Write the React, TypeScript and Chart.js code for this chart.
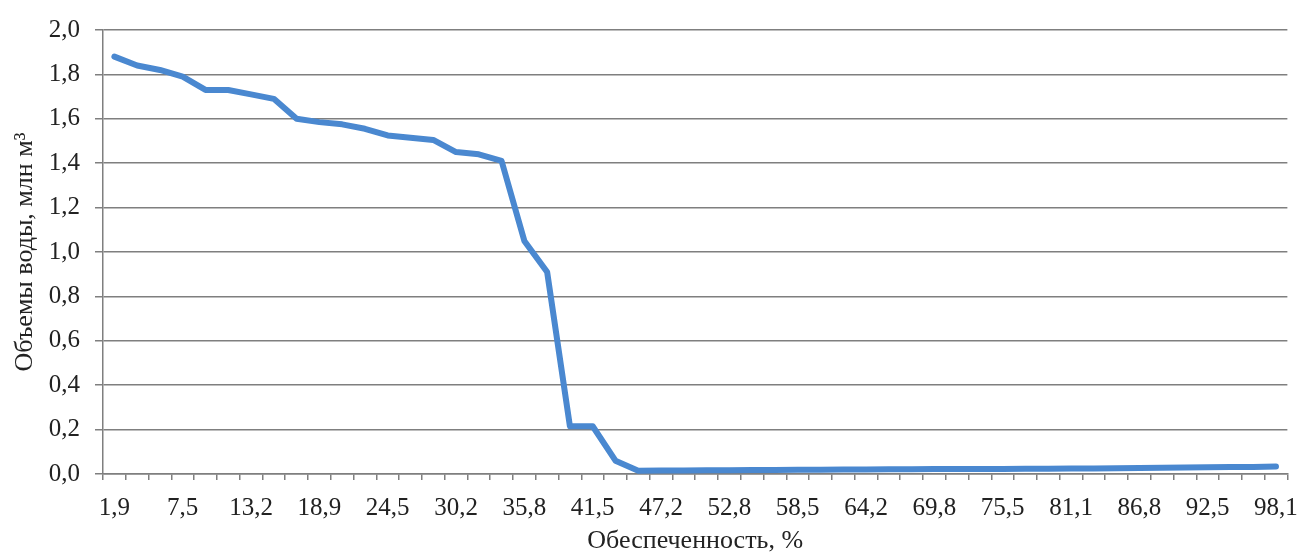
import React, { useEffect, useRef } from "react";
import { Chart, registerables } from "chart.js";

Chart.register(...registerables);

const xLabels: string[] = [
  "1,9", "3,8", "5,7", "7,5", "9,4", "11,3", "13,2", "15,1", "17,0", "18,9",
  "20,8", "22,6", "24,5", "26,4", "28,3", "30,2", "32,1", "34,0", "35,8", "37,7",
  "39,6", "41,5", "43,4", "45,3", "47,2", "49,1", "50,9", "52,8", "54,7", "56,6",
  "58,5", "60,4", "62,3", "64,2", "66,0", "67,9", "69,8", "71,7", "73,6", "75,5",
  "77,4", "79,2", "81,1", "83,0", "84,9", "86,8", "88,7", "90,6", "92,5", "94,3",
  "96,2", "98,1",
];

const volumes: number[] = [
  1.88, 1.84, 1.82, 1.79, 1.73, 1.73, 1.71, 1.69, 1.60, 1.585,
  1.575, 1.555, 1.525, 1.515, 1.505, 1.45, 1.44, 1.41, 1.05, 0.91,
  0.215, 0.215, 0.06, 0.015, 0.016, 0.016, 0.017, 0.017, 0.018, 0.018,
  0.019, 0.019, 0.02, 0.02, 0.021, 0.021, 0.022, 0.022, 0.023, 0.023,
  0.024, 0.024, 0.025, 0.025, 0.026, 0.027, 0.028, 0.029, 0.03, 0.031,
  0.032, 0.034,
];

const yTitle = "Объемы воды, млн м³";
const xTitle = "Обеспеченность, %";
const yMin = 0;
const yMax = 2;
const yStep = 0.2;

const FONT = "'Liberation Serif', 'Times New Roman', serif";

export default function App() {
  const ref = useRef<HTMLCanvasElement | null>(null);

  useEffect(() => {
    if (!ref.current) return;
    const chart = new Chart(ref.current, {
      type: "line",
      data: {
        labels: xLabels,
        datasets: [
          {
            data: volumes,
            borderColor: "#4a88d0",
            backgroundColor: "#4a88d0",
            borderWidth: 6,
            pointRadius: 0,
            tension: 0,
            borderCapStyle: "round",
            borderJoinStyle: "round",
          },
        ],
      },
      options: {
        animation: false,
        responsive: false,
        maintainAspectRatio: false,
        layout: { autoPadding: false, padding: { top: 27, right: 14, bottom: 0, left: 0 } },
        plugins: { legend: { display: false }, tooltip: { enabled: false } },
        scales: {
          x: {
            type: "category",
            offset: true,
            grid: {
              offset: true,
              drawOnChartArea: false,
              drawTicks: true,
              tickLength: 6,
              color: "#7f7f7f",
              lineWidth: 1.5,
            },
            border: { display: true, color: "#7f7f7f", width: 1.5 },
            ticks: {
              autoSkip: false,
              maxRotation: 0,
              minRotation: 0,
              padding: 13,
              color: "#222",
              font: { family: FONT, size: 25 },
              callback: (_v: any, i: number) => (i % 3 === 0 ? xLabels[i] : ""),
            },
            title: {
              display: true,
              text: xTitle,
              color: "#222",
              font: { family: FONT, size: 26 },
              padding: { top: 0, bottom: -4 },
            },
            afterFit: (scale: any) => {
              scale.height = 79;
            },
          },
          y: {
            min: yMin,
            max: yMax,
            grid: {
              color: "#7f7f7f",
              lineWidth: 1.5,
              drawTicks: true,
              tickLength: 8,
            },
            border: { display: true, color: "#7f7f7f", width: 1.5 },
            ticks: {
              stepSize: yStep,
              padding: 15,
              color: "#222",
              font: { family: FONT, size: 25 },
              callback: (v: any) => Number(v).toFixed(1).replace(".", ","),
            },
            title: {
              display: true,
              text: yTitle,
              color: "#222",
              font: { family: FONT, size: 26 },
              padding: { top: 10, bottom: 0 },
            },
            afterFit: (scale: any) => {
              scale.width = 103;
            },
          },
        },
      },
    });
    return () => chart.destroy();
  }, []);

  return (
    <div style={{ position: "absolute", left: 0, top: 0, width: 1311, height: 553, background: "#fff" }}>
      <canvas ref={ref} width={1311} height={553} style={{ display: "block" }} />
    </div>
  );
}
